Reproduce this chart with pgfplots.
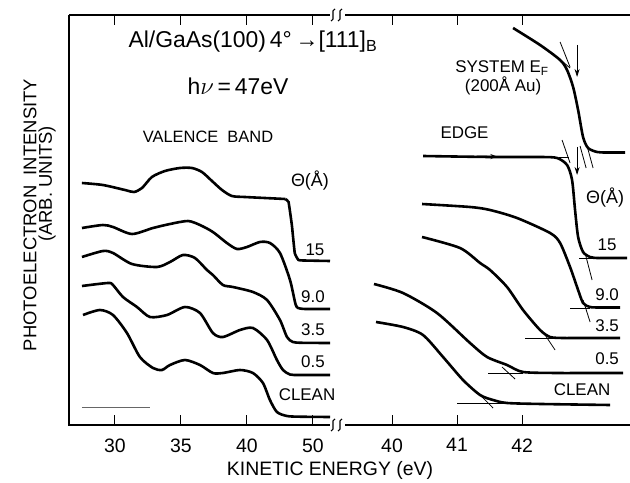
\documentclass[border=0pt]{standalone}
\usepackage{pgfplots}
\pgfplotsset{compat=1.18}
\usepackage{fontspec}
\setmainfont{Liberation Sans}
\usetikzlibrary{arrows.meta}
\newcommand{\fs}[1]{\fontsize{#1}{#1}\selectfont}
\begin{document}
\begin{tikzpicture}
\path[use as bounding box] (0,0) rectangle (630bp,483bp);
\pgfplotsset{
  panel/.style={
    scale only axis, height=410bp, anchor=south west,
    ymin=0, ymax=410, ytick=\empty, clip=false,
    axis line style={draw=none},
    tick align=inside, xtick pos=both, major tick length=10bp,
    tick style={line width=1bp, black},
    /pgf/number format/assume math mode=true,
    tick label style={font=\fs{19.5}},
    xticklabel style={yshift=-10bp},
  },
  curve/.style={black, line width=2.6bp, smooth, tension=0.45, no marks},
  thin/.style={black, line width=0.8bp},
}
\newcommand{\brk}[1]{%
  \draw[line width=1.1bp] ([xshift=-6bp,yshift=-6bp]#1) .. controls +(5bp,0bp) and +(-5bp,0bp) .. ([xshift=-2bp,yshift=6bp]#1);
  \draw[line width=1.1bp] ([xshift=1bp,yshift=-6bp]#1) .. controls +(5bp,0bp) and +(-5bp,0bp) .. ([xshift=5bp,yshift=6bp]#1);}
% ---------------- left panel: valence band ----------------
\begin{axis}[panel, at={(69bp,58bp)}, width=268bp,
  xmin=26.52, xmax=46.82,
  xtick={30,35,40,45}, xticklabels={30,35,40,50}]
\draw[line width=1.5bp] (rel axis cs:0,1) -- (rel axis cs:0,0) -- ([xshift=-7bp]rel axis cs:1,0);
\draw[line width=1.5bp] (rel axis cs:0,1) -- ([xshift=-7bp]rel axis cs:1,1);
\brk{rel axis cs:1,0}
\brk{rel axis cs:1,1}
% 15
\addplot[curve] coordinates {(27.50,242)(29.09,240)(30.76,235)(31.44,233)(32.05,237)(32.80,248)(33.79,254)(34.92,257)(35.83,257)(36.59,253)(37.35,244)(38.11,235)(38.86,229)(39.85,228)(41.36,227)(42.90,226)};
\addplot[curve, tension=0.2] coordinates {(42.90,226)(43.15,223)(43.40,200)(43.62,172)(43.90,165)(44.3,164.5)(46.29,164)};
% 9.0
\addplot[curve] coordinates {(27.50,197)(29.09,200)(29.85,198)(31.29,191)(32.88,197)(34.17,201)(35.53,204)(36.44,200)(37.42,193)(38.48,182)(39.24,176)(40.00,178)(40.98,183)(41.74,182)(42.50,172)(43.26,145)(43.70,120)(44.02,116.5)(44.6,116)(46.29,116)};
% 3.5
\addplot[curve] coordinates {(27.50,168)(29.09,174)(29.85,172)(31.29,161)(33.18,158)(34.17,163)(35.15,170)(36.06,167)(36.97,155)(37.42,150)(38.18,140)(38.94,138)(40.45,133)(41.52,125)(42.50,105)(43.03,88)(43.48,83)(44.2,82.2)(46.29,82)};
% 0.5
\addplot[curve] coordinates {(27.50,139)(29.47,142)(29.85,140)(30.61,128)(31.67,118)(32.65,108)(33.94,110)(35.30,118)(36.44,112)(37.42,92)(38.18,88)(39.47,95)(40.45,97)(41.52,85)(42.27,65)(42.73,55)(43.26,50.5)(44.0,50)(46.29,50)};
% clean
\addplot[curve] coordinates {(27.58,110)(28.86,115)(29.85,110)(30.91,92)(31.89,68)(32.88,57)(33.56,55)(34.17,60)(35.30,65)(36.44,60)(37.42,52)(38.18,52)(39.47,55)(40.45,52)(41.21,42)(41.74,25)(42.27,13)(43.03,9)(44.0,8.3)(46.29,8)};
\addplot[black!60, line width=1bp, no marks] coordinates {(27.50,17)(32.65,17)};
% texts
\node[font=\fs{23}] at (axis cs:40.45,383) {Al/GaAs(100)\,4°\,→[111]\textsubscript{B}};
\node[font=\fs{23}] at (axis cs:39.32,339) {h$\nu$\,=\,47eV};
\node[font=\fs{16.5}] at (axis cs:37.05,288) {VALENCE\ \ BAND};
\node[font=\fs{18}] at (axis cs:44.77,244) {Θ(Å)};
\node[font=\fs{17}] at (axis cs:45.15,175) {15};
\node[font=\fs{17}] at (axis cs:45.0,128) {9.0};
\node[font=\fs{17}] at (axis cs:45.0,95) {3.5};
\node[font=\fs{17}] at (axis cs:45.0,63) {0.5};
\node[font=\fs{17}] at (axis cs:44.55,30) {CLEAN};
% axis titles
\node[font=\fs{18.5}, rotate=90] at ([xshift=-39bp]axis cs:26.52,210) {PHOTOELECTRON\ \ INTENSITY};
\node[font=\fs{18.5}, rotate=90] at ([xshift=-22bp]axis cs:26.52,241) {(ARB. UNITS)};
\node[font=\fs{19.5}] at ([yshift=-45bp]rel axis cs:0.974,0) {KINETIC ENERGY (eV)};
\end{axis}
% ---------------- right panel: edge ----------------
\begin{axis}[panel, at={(337bp,58bp)}, width=293bp,
  xmin=39.154, xmax=43.66,
  xtick={40,41,42}]
\draw[line width=1.5bp] ([xshift=8bp]rel axis cs:0,0) -- (rel axis cs:1,0);
\draw[line width=1.5bp] ([xshift=8bp]rel axis cs:0,1) -- (rel axis cs:1,1);
% system EF
\addplot[curve] coordinates {(41.862,397)(42.277,380)(42.585,365)(42.692,355)(42.785,338)(42.862,315)(42.938,288)(43.015,277)(43.154,273)(43.30,272.5)(43.585,272.5)};
% 15
\addplot[curve] coordinates {(40.477,269)(41.508,268)(42.277,268)(42.538,267)(42.692,260)(42.769,245)(42.815,215)(42.862,188)(42.938,173)(43.046,168)(43.154,167)(43.30,167)(43.615,167)};
% 9.0
\addplot[curve] coordinates {(40.462,221)(41.200,218)(41.508,215)(41.923,207)(42.431,192)(42.585,182)(42.738,158)(42.846,138)(42.938,122)(43.046,118)(43.20,117.5)(43.508,117.5)};
% 3.5
\addplot[curve] coordinates {(40.462,188)(41.046,177)(41.354,162)(41.508,155)(41.769,138)(42.015,115)(42.277,95)(42.431,88)(42.631,87)(42.9,87)(43.508,87)};
% 0.5
\addplot[curve] coordinates {(39.723,141)(40.169,132)(40.692,112)(41.200,82)(41.462,68)(41.769,60)(42.015,53)(42.538,52)(43.0,52)(43.554,52)};
% clean
\addplot[curve] coordinates {(39.754,103)(40.169,98)(40.477,90)(40.785,68)(41.092,45)(41.354,30)(41.554,25)(41.769,22)(42.3,21)(43.354,20)};
% construction lines
\addplot[thin] coordinates {(42.877,167)(43.154,167)};
\addplot[thin] coordinates {(42.969,172)(43.077,145)};
\addplot[thin] coordinates {(42.738,117)(43.046,117)};
\addplot[thin] coordinates {(42.938,125)(43.046,103)};
\addplot[thin] coordinates {(42.046,87)(42.631,87)};
\addplot[thin] coordinates {(42.323,93)(42.508,75)};
\addplot[thin] coordinates {(41.477,52)(42.015,52)};
\addplot[thin] coordinates {(41.692,58)(41.892,46)};
\addplot[thin] coordinates {(41.000,22)(41.769,22)};
\addplot[thin] coordinates {(41.385,28)(41.554,17)};
\addplot[thin] coordinates {(42.585,383)(42.738,358)};
\addplot[thin] coordinates {(42.631,363)(42.738,357)};
\addplot[thin] coordinates {(42.892,279)(42.985,257)};
\addplot[thin] coordinates {(43.000,279)(43.092,257)};
\addplot[thin] coordinates {(42.615,285)(42.738,262)};
\addplot[thin] coordinates {(42.570,268)(42.720,268)};
\addplot[thin, -{Stealth[length=8bp,width=5bp]}] coordinates {(42.846,380)(42.846,348)};
\addplot[thin, -{Stealth[length=8bp,width=5bp]}] coordinates {(42.846,278)(42.846,250)};
\addplot[black, line width=1.5bp, -{Stealth[length=7bp,width=5bp]}] coordinates {(41.30,268.6)(41.62,268.4)};
% texts
\node[font=\fs{17}] at (axis cs:41.115,292) {EDGE};
\node[font=\fs{17}] at (axis cs:41.692,357) {SYSTEM E\textsubscript{F}};
\node[font=\fs{17}] at (axis cs:41.708,339) {(200Å Au)};
\node[font=\fs{18}] at (axis cs:43.277,227) {Θ(Å)};
\node[font=\fs{17}] at (axis cs:43.308,180) {15};
\node[font=\fs{17}] at (axis cs:43.308,130) {9.0};
\node[font=\fs{17}] at (axis cs:43.308,99) {3.5};
\node[font=\fs{17}] at (axis cs:43.308,66) {0.5};
\node[font=\fs{17}] at (axis cs:42.923,35) {CLEAN};
\end{axis}
\end{tikzpicture}
\end{document}
